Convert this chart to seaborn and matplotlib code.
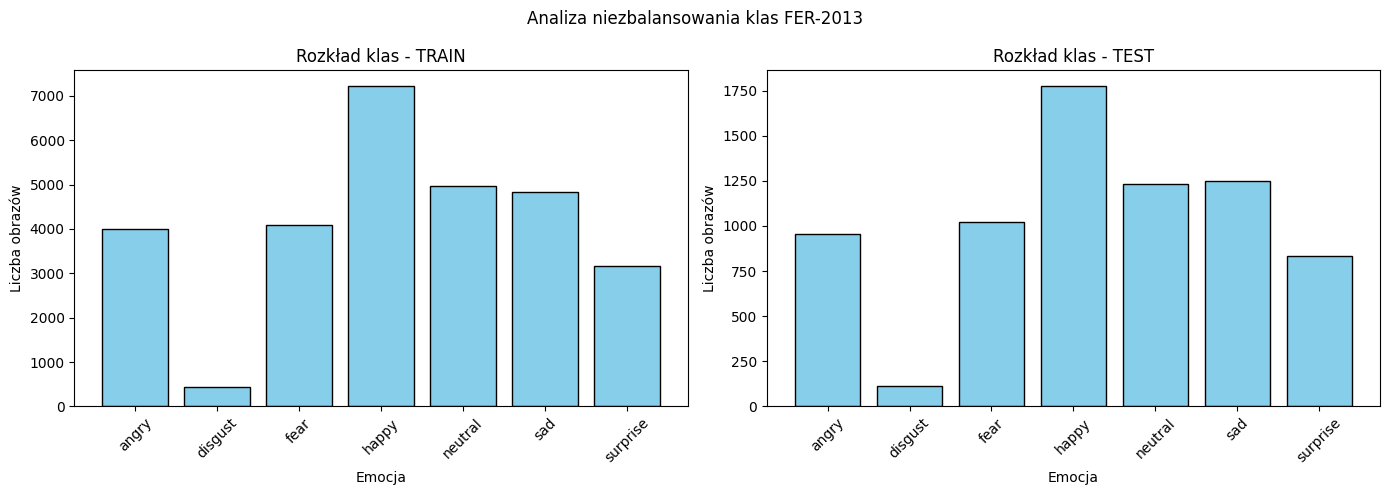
import pandas as pd
import seaborn as sns
import matplotlib.pyplot as plt

# class counts, FER-2013
emotions = ["angry", "disgust", "fear", "happy", "neutral", "sad", "surprise"]
train_counts = [3995, 436, 4097, 7215, 4965, 4830, 3171]
test_counts = [958, 111, 1024, 1774, 1233, 1247, 831]

df_train = pd.DataFrame({"emotion": emotions, "count": train_counts})
df_test = pd.DataFrame({"emotion": emotions, "count": test_counts})

fig, axes = plt.subplots(1, 2, figsize=(14, 5))

for ax, df, name in zip(axes, [df_train, df_test], ["TRAIN", "TEST"]):
    sns.barplot(
        data=df,
        x="emotion",
        y="count",
        color="skyblue",
        saturation=1,
        edgecolor="black",
        linewidth=1,
        ax=ax,
    )
    # plain matplotlib-style x margins instead of seaborn's tight category limits
    ax.set_autoscalex_on(True)
    ax.margins(x=0.05)
    ax.autoscale_view()
    ax.set_title(f"Rozkład klas - {name}")
    ax.set_xlabel("Emocja")
    ax.set_ylabel("Liczba obrazów")
    ax.tick_params(axis="x", rotation=45)

fig.suptitle("Analiza niezbalansowania klas FER-2013")
plt.tight_layout()
plt.savefig("out.png", dpi=100, bbox_inches="tight")
